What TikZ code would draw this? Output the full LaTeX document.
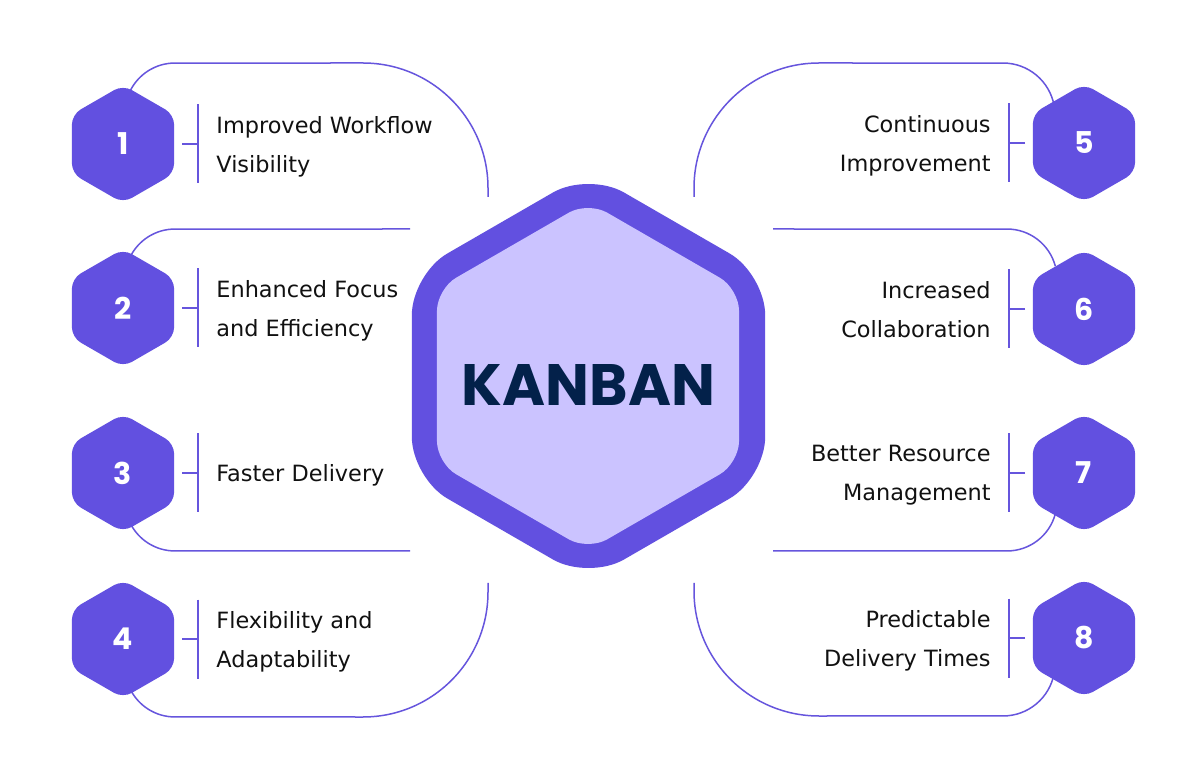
\documentclass[tikz,border=0pt]{standalone}
\usepackage{fontspec}
\usepackage{graphicx}
\setmainfont{DejaVu Sans}
\newfontfamily\numfont{Poppins}
\usetikzlibrary{shapes.geometric,calc,backgrounds}
\definecolor{purp}{HTML}{6250E0}
\definecolor{lav}{HTML}{CBC3FF}
\definecolor{navy}{HTML}{03214A}
\definecolor{linec}{HTML}{6655DD}
\definecolor{txt}{HTML}{111111}
\begin{document}
\begin{tikzpicture}[x=0.5pt,y=0.5pt,
  hexnode/.style={regular polygon, regular polygon sides=6, shape border rotate=30,
    minimum size=59pt, inner sep=0pt, fill=purp, rounded corners=5pt, text=white,
    font=\numfont\bfseries\fontsize{15}{15}\selectfont},
  conn/.style={draw=linec, line width=0.75pt},
  lbl/.style={inner sep=0pt, text=txt, font=\fontsize{11.2}{19.5}\selectfont,
    execute at begin node=\vphantom{l}},
  lbll/.style={lbl, anchor=north west, align=left},
  lblr/.style={lbl, anchor=north east, align=right}]
\useasboundingbox (0,0) rectangle (1200,-780);

% central hexagon
\fill[purp, rounded corners=20.5pt] (588.5,-376) +(90:204) -- +(150:204) -- +(210:204) -- +(270:204) -- +(330:204) -- +(30:204) -- cycle;
\fill[lav, rounded corners=11pt] (588,-376) +(90:174.4) -- +(150:174.4) -- +(210:174.4) -- +(270:174.4) -- +(330:174.4) -- +(30:174.4) -- cycle;
\node[text=navy, inner sep=0pt] (kanban) at (588.5,-384.5) {\resizebox{126.5pt}{20.5pt}{\numfont\bfseries KANBAN}};

% left items
\node[hexnode] (n1) at (123,-144) {1};
\node[hexnode] (n2) at (123,-308) {2};
\node[hexnode] (n3) at (123,-473) {3};
\node[hexnode] (n4) at (123,-639) {4};
\node[lbll] (t1) at ($(n1)+(93,28.2)$) {Improved Workflow\\Visibility};
\node[lbll] (t2) at ($(n2)+(93,28.2)$) {Enhanced Focus\\and Efficiency};
\node[lbll] (t3) at ($(n3)+(93,8.7)$) {Faster Delivery};
\node[lbll] (t4) at ($(n4)+(93,28.2)$) {Flexibility and\\Adaptability};

% right items
\node[hexnode] (n5) at (1084,-143) {5};
\node[hexnode] (n6) at (1084,-309) {6};
\node[hexnode] (n7) at (1084,-473) {7};
\node[hexnode] (n8) at (1084,-638) {8};
\node[lblr] (t5) at ($(n5)+(-93,28.2)$) {Continuous\\Improvement};
\node[lblr] (t6) at ($(n6)+(-93,28.2)$) {Increased\\Collaboration};
\node[lblr] (t7) at ($(n7)+(-93,28.2)$) {Better Resource\\Management};
\node[lblr] (t8) at ($(n8)+(-93,28.2)$) {Predictable\\Delivery Times};

% ticks
\foreach \n in {n1,n2,n3,n4}{
  \draw[conn] ($(\n)+(59,0)$) -- ($(\n)+(75,0)$);
  \draw[conn] ($(\n)+(75,39.5)$) -- ($(\n)+(75,-39.5)$);
}
\foreach \n in {n5,n6,n7,n8}{
  \draw[conn] ($(\n)+(-59,0)$) -- ($(\n)+(-75,0)$);
  \draw[conn] ($(\n)+(-75,39.5)$) -- ($(\n)+(-75,-39.5)$);
}

\begin{scope}[on background layer]
\fill[white] (0,0) rectangle (1200,-780);
\draw[conn] ($(n1)+(6.7,52.1)$) arc[start angle=155,end angle=90,radius=50] -- (363,-63) arc[start angle=90,end angle=0,radius=125] -- (488,-197);
\draw[conn] ($(n2)+(6.7,50.1)$) arc[start angle=155,end angle=90,radius=50] -- (410,-229);
\draw[conn] ($(n3)+(6.7,-49.1)$) arc[start angle=205,end angle=270,radius=50] -- (410,-551);
\draw[conn] ($(n4)+(6.7,-49.1)$) arc[start angle=205,end angle=270,radius=50] -- (363,-717) arc[start angle=270,end angle=360,radius=125] -- (488,-583);
\draw[conn] ($(n5)+(-29.8,37)$) arc[start angle=10,end angle=90,radius=52] -- (819,-63) arc[start angle=90,end angle=180,radius=125] -- (694,-197);
\draw[conn] ($(n6)+(-28.7,42.9)$) arc[start angle=15,end angle=90,radius=50] -- (773,-229);
\draw[conn] ($(n7)+(-28.7,-40.9)$) arc[start angle=345,end angle=270,radius=50] -- (773,-551);
\draw[conn] ($(n8)+(-29.8,-35)$) arc[start angle=350,end angle=270,radius=52] -- (819,-716) arc[start angle=270,end angle=180,radius=125] -- (694,-583);
\end{scope}
\end{tikzpicture}
\end{document}
